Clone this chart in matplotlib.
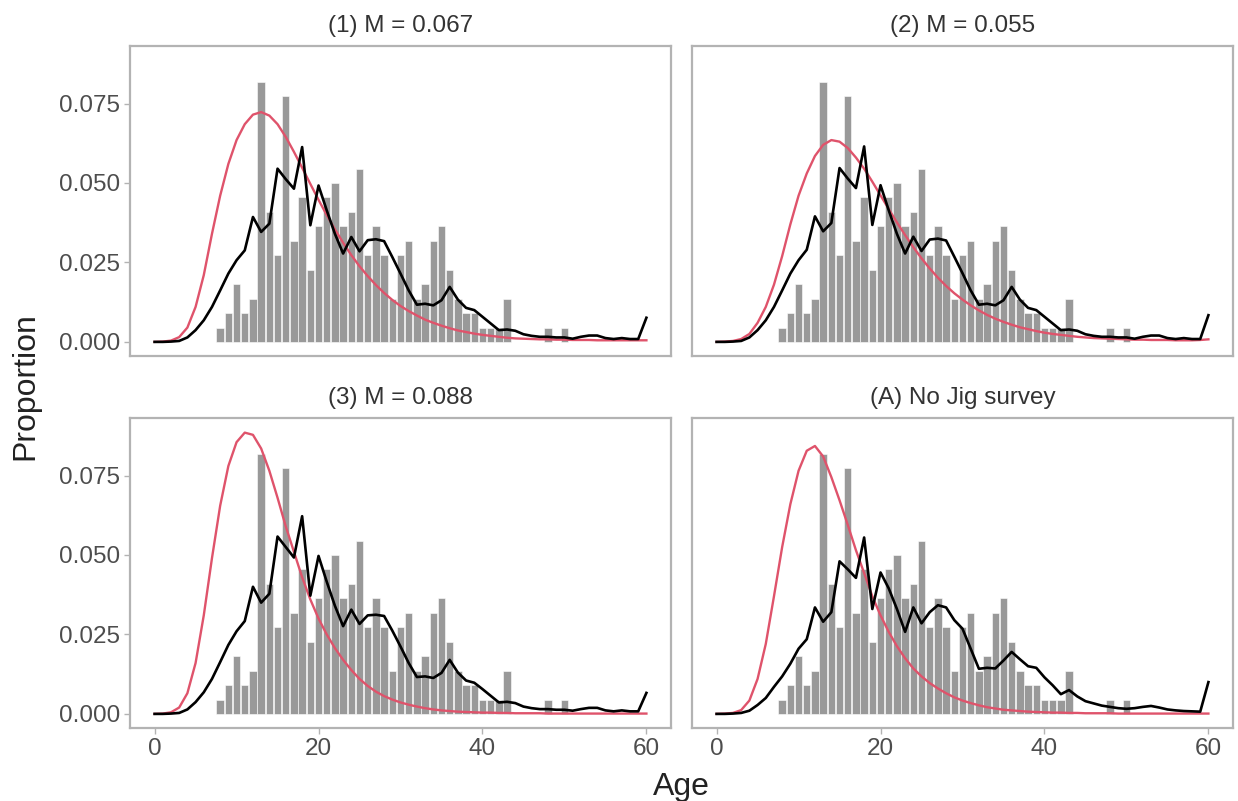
import matplotlib
matplotlib.use("Agg")
import matplotlib.pyplot as plt
import numpy as np

plt.rcParams['font.family'] = ['Liberation Sans', 'DejaVu Sans']

# ---------------- data ----------------
ages = list(range(0, 61))

bar_ages = [8, 9, 10, 11, 12, 13, 14, 15, 16, 17, 18, 19, 20, 21, 22, 23, 24, 25,
            26, 27, 28, 29, 30, 31, 32, 33, 34, 35, 36, 37, 38, 39, 40, 41, 42, 43,
            48, 50]
bar_props = [0.0045, 0.0091, 0.0182, 0.0091, 0.0136, 0.0818, 0.0409, 0.0273, 0.0773,
             0.0318, 0.0455, 0.0227, 0.0364, 0.0455, 0.0500, 0.0364, 0.0409, 0.0545,
             0.0273, 0.0364, 0.0273, 0.0136, 0.0273, 0.0318, 0.0136, 0.0182, 0.0318,
             0.0364, 0.0227, 0.0136, 0.0091, 0.0091, 0.0045, 0.0045, 0.0045, 0.0136,
             0.0045, 0.0045]

fit_1 = [0, 0, 0.0001, 0.0003, 0.0014, 0.0037, 0.0068, 0.0110, 0.0162, 0.0215,
         0.0257, 0.0288, 0.0393, 0.0346, 0.0372, 0.0545, 0.0512, 0.0482, 0.0613, 0.0367,
         0.0492, 0.0414, 0.0340, 0.0278, 0.0330, 0.0285, 0.0320, 0.0323, 0.0317, 0.0267,
         0.0215, 0.0162, 0.0117, 0.0120, 0.0115, 0.0131, 0.0173, 0.0133, 0.0107, 0.0100,
         0.0079, 0.0058, 0.0037, 0.0039, 0.0035, 0.0024, 0.0019, 0.0016, 0.0016, 0.0014,
         0.0014, 0.0010, 0.0016, 0.0020, 0.0020, 0.0012, 0.0009, 0.0012, 0.0009, 0.0009,
         0.0076]
fit_2 = [0, 0, 0.0001, 0.0003, 0.0014, 0.0037, 0.0068, 0.0110, 0.0162, 0.0215,
         0.0257, 0.0290, 0.0395, 0.0348, 0.0374, 0.0547, 0.0514, 0.0484, 0.0615, 0.0368,
         0.0493, 0.0414, 0.0340, 0.0278, 0.0331, 0.0286, 0.0322, 0.0325, 0.0319, 0.0268,
         0.0216, 0.0162, 0.0117, 0.0120, 0.0115, 0.0131, 0.0173, 0.0133, 0.0107, 0.0100,
         0.0079, 0.0058, 0.0037, 0.0039, 0.0035, 0.0024, 0.0019, 0.0016, 0.0016, 0.0014,
         0.0014, 0.0010, 0.0016, 0.0020, 0.0020, 0.0012, 0.0009, 0.0012, 0.0009, 0.0009,
         0.0084]
fit_3 = [0, 0, 0.0001, 0.0003, 0.0014, 0.0037, 0.0068, 0.0110, 0.0163, 0.0217,
         0.0260, 0.0292, 0.0400, 0.0350, 0.0378, 0.0558, 0.0525, 0.0492, 0.0622, 0.0372,
         0.0497, 0.0416, 0.0340, 0.0276, 0.0328, 0.0283, 0.0310, 0.0312, 0.0308, 0.0262,
         0.0212, 0.0160, 0.0116, 0.0118, 0.0113, 0.0129, 0.0170, 0.0130, 0.0105, 0.0098,
         0.0078, 0.0057, 0.0036, 0.0038, 0.0034, 0.0023, 0.0018, 0.0015, 0.0015, 0.0013,
         0.0013, 0.0010, 0.0015, 0.0019, 0.0019, 0.0011, 0.0008, 0.0011, 0.0008, 0.0008,
         0.0066]
fit_A = [0, 0, 0.0001, 0.0003, 0.0010, 0.0028, 0.0050, 0.0085, 0.0118, 0.0158,
         0.0205, 0.0235, 0.0335, 0.0290, 0.0320, 0.0480, 0.0455, 0.0428, 0.0555, 0.0330,
         0.0445, 0.0395, 0.0330, 0.0258, 0.0335, 0.0285, 0.0320, 0.0342, 0.0335, 0.0295,
         0.0268, 0.0205, 0.0142, 0.0145, 0.0143, 0.0168, 0.0195, 0.0172, 0.0150, 0.0145,
         0.0115, 0.0090, 0.0062, 0.0075, 0.0055, 0.0040, 0.0033, 0.0026, 0.0022, 0.0018,
         0.0016, 0.0018, 0.0022, 0.0025, 0.0020, 0.0014, 0.0011, 0.0009, 0.0008, 0.0007,
         0.0100]

pop_1 = [0, 0.0001, 0.0004, 0.0015, 0.0045, 0.0110, 0.0210, 0.0340, 0.0460, 0.0560,
         0.0635, 0.0685, 0.0715, 0.0723, 0.0712, 0.0685, 0.0645, 0.0598, 0.0548, 0.0497,
         0.0447, 0.0399, 0.0354, 0.0312, 0.0273, 0.0238, 0.0207, 0.0179, 0.0154, 0.0132,
         0.0113, 0.0097, 0.0083, 0.0070, 0.0060, 0.0051, 0.0043, 0.0036, 0.0031, 0.0026,
         0.0022, 0.0019, 0.0016, 0.0013, 0.0011, 0.0010, 0.0009, 0.0008, 0.0008, 0.0007,
         0.0007, 0.0006, 0.0006, 0.0006, 0.0005, 0.0005, 0.0005, 0.0005, 0.0005, 0.0005,
         0.0005]
pop_2 = [0, 0.0001, 0.0003, 0.0009, 0.0025, 0.0060, 0.0110, 0.0180, 0.0270, 0.0370,
         0.0460, 0.0530, 0.0585, 0.0620, 0.0635, 0.0630, 0.0610, 0.0580, 0.0545, 0.0504,
         0.0461, 0.0418, 0.0376, 0.0336, 0.0298, 0.0263, 0.0231, 0.0202, 0.0176, 0.0153,
         0.0133, 0.0115, 0.0099, 0.0085, 0.0073, 0.0063, 0.0054, 0.0046, 0.0040, 0.0034,
         0.0029, 0.0025, 0.0022, 0.0019, 0.0016, 0.0014, 0.0012, 0.0011, 0.0010, 0.0009,
         0.0008, 0.0007, 0.0007, 0.0006, 0.0006, 0.0006, 0.0005, 0.0005, 0.0005, 0.0006,
         0.0008]
pop_3 = [0, 0.0001, 0.0005, 0.0020, 0.0065, 0.0160, 0.0310, 0.0490, 0.0655, 0.0780,
         0.0855, 0.0885, 0.0878, 0.0835, 0.0765, 0.0680, 0.0590, 0.0510, 0.0430, 0.0360,
         0.0300, 0.0250, 0.0207, 0.0170, 0.0138, 0.0110, 0.0088, 0.0070, 0.0056, 0.0045,
         0.0036, 0.0029, 0.0023, 0.0018, 0.0014, 0.0011, 0.0009, 0.0007, 0.0006, 0.0005,
         0.0004, 0.0004, 0.0003, 0.0003, 0.0002, 0.0002, 0.0002, 0.0002, 0.0001, 0.0001,
         0.0001, 0.0001, 0.0001, 0.0001, 0.0001, 0.0001, 0.0001, 0.0001, 0.0001, 0.0001,
         0.0001]
pop_A = [0, 0.0001, 0.0003, 0.0012, 0.0042, 0.0110, 0.0220, 0.0370, 0.0525, 0.0660,
         0.0765, 0.0828, 0.0843, 0.0810, 0.0745, 0.0672, 0.0595, 0.0515, 0.0443, 0.0370,
         0.0310, 0.0258, 0.0213, 0.0175, 0.0143, 0.0118, 0.0097, 0.0080, 0.0065, 0.0052,
         0.0042, 0.0034, 0.0027, 0.0021, 0.0017, 0.0013, 0.0011, 0.0009, 0.0007, 0.0006,
         0.0005, 0.0004, 0.0004, 0.0003, 0.0003, 0.0002, 0.0002, 0.0002, 0.0002, 0.0001,
         0.0001, 0.0001, 0.0001, 0.0001, 0.0001, 0.0001, 0.0001, 0.0001, 0.0001, 0.0001,
         0.0001]

titles = ["(1) M = 0.067", "(2) M = 0.055", "(3) M = 0.088", "(A) No Jig survey"]
fits = [fit_1, fit_2, fit_3, fit_A]
pops = [pop_1, pop_2, pop_3, pop_A]

x_ticks = [0, 20, 40, 60]
y_ticks = [0.0, 0.025, 0.05, 0.075]
y_ticklabels = ["0.000", "0.025", "0.050", "0.075"]

# ---------------- figure ----------------
W, H = 1238, 801
fig = plt.figure(figsize=(W / 100, H / 100), dpi=100)
fig.patch.set_facecolor("white")

def px_axes(left, top, right, bottom):
    return fig.add_axes([left / W, 1 - bottom / H, (right - left) / W, (bottom - top) / H])

boxes = [(130, 46, 671, 356), (692, 46, 1233, 356),
         (130, 418, 671, 728), (692, 418, 1233, 728)]

frame_col = "#b3b3b3"
text_col = "#4d4d4d"
red = "#DF536B"

for i, (box, title, fit, pop) in enumerate(zip(boxes, titles, fits, pops)):
    ax = px_axes(*box)
    ax.bar(bar_ages, bar_props, width=0.9, color="#999999", edgecolor="white",
           linewidth=0.4, zorder=1)
    ax.plot(ages, pop, color=red, lw=1.7, zorder=2, solid_joinstyle="round")
    ax.plot(ages, fit, color="black", lw=1.9, zorder=3, solid_joinstyle="round")
    ax.set_xlim(-3, 63)
    ax.set_ylim(-0.00444, 0.0931)
    for s in ax.spines.values():
        s.set_color(frame_col)
        s.set_linewidth(1.6)
    ax.set_xticks(x_ticks)
    ax.set_yticks(y_ticks)
    ax.tick_params(axis="both", colors=frame_col, length=4, width=1.0,
                   labelsize=17.5, labelcolor=text_col, pad=3)
    row, col = divmod(i, 2)
    if col == 0:
        ax.set_yticklabels(y_ticklabels)
    else:
        ax.tick_params(axis="y", left=False, labelleft=False)
    if row == 1:
        ax.set_xticklabels([str(t) for t in x_ticks])
    else:
        ax.tick_params(axis="x", bottom=False, labelbottom=False)
    ax.set_title(title, fontsize=17.5, color="#333333", pad=10)

fig.text(25 / W, 1 - 386 / H, "Proportion", rotation=90, ha="center", va="center",
         fontsize=23, color="#222222")
fig.text(681 / W, 1 - 787 / H, "Age", ha="center", va="center",
         fontsize=23, color="#222222")

fig.savefig("out.png", dpi=100, facecolor="white")
